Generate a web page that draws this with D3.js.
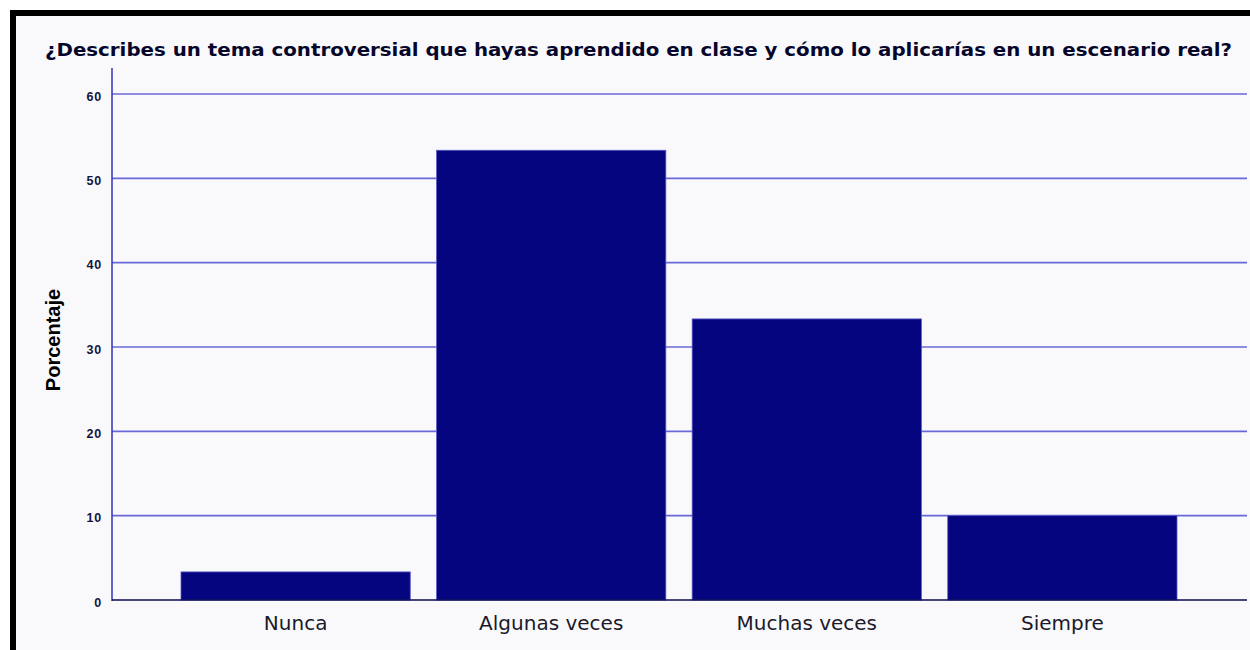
<!DOCTYPE html>
<html lang="es">
<head>
<meta charset="UTF-8">
<script src="https://d3js.org/d3.v7.min.js"></script>
<style>
  body { margin: 0; background: #ffffff; }
  svg { display: block; }
</style>
</head>
<body>
<script>
  // datos del gráfico
  const categorias = ["Nunca", "Algunas veces", "Muchas veces", "Siempre"];
  const porcentajes = [3.33, 53.33, 33.33, 10.0];
  const ticksY = [0, 10, 20, 30, 40, 50, 60];
  const titulo = "¿Describes un tema controversial que hayas aprendido en clase y cómo lo aplicarías en un escenario real?";

  const width = 1250, height = 650;

  const svg = d3.select("body").append("svg")
    .attr("width", width)
    .attr("height", height);

  // fondo y marco negro
  svg.append("rect").attr("width", width).attr("height", height).attr("fill", "#ffffff");
  svg.append("rect")
    .attr("x", 13).attr("y", 13)
    .attr("width", width + 20).attr("height", height + 20)
    .attr("fill", "#f9f9fc")
    .attr("stroke", "#000").attr("stroke-width", 6);

  const x = d3.scaleBand()
    .domain(categorias)
    .range([112, 1246])
    .paddingInner(0.103)
    .paddingOuter(0.27);

  const y = d3.scaleLinear()
    .domain([0, 60])
    .range([600, 94]);

  // líneas de cuadrícula
  svg.append("g")
    .selectAll("line")
    .data(ticksY.filter(d => d > 0))
    .enter().append("line")
    .attr("x1", 112).attr("x2", 1247)
    .attr("y1", d => y(d)).attr("y2", d => y(d))
    .attr("stroke", "#6868d8")
    .attr("stroke-width", 1.6);

  // barras
  svg.append("g")
    .selectAll("rect")
    .data(porcentajes)
    .enter().append("rect")
    .attr("x", (d, i) => x(categorias[i]))
    .attr("y", d => y(d))
    .attr("width", x.bandwidth())
    .attr("height", d => y(0) - y(d))
    .attr("fill", "#05057f")
    .attr("stroke", "#5a5ac8")
    .attr("stroke-width", 0.8);

  // eje Y
  const ejeY = svg.append("g")
    .attr("transform", "translate(112,0)")
    .call(d3.axisLeft(y).tickValues(ticksY).tickSize(0).tickPadding(10));
  ejeY.select(".domain").remove();
  ejeY.selectAll("text")
    .attr("font-family", "Liberation Sans, Arial, sans-serif")
    .attr("font-size", 12.5)
    .attr("font-weight", "bold")
    .attr("letter-spacing", 0.8)
    .attr("fill", "#14143c")
    .attr("dy", "0.5em");
  svg.append("line")
    .attr("x1", 112).attr("x2", 112)
    .attr("y1", 68).attr("y2", 601)
    .attr("stroke", "#3c3cc0").attr("stroke-width", 1.6);

  // eje X
  const ejeX = svg.append("g")
    .attr("transform", "translate(0,600)")
    .call(d3.axisBottom(x).tickSize(0).tickPadding(12));
  ejeX.select(".domain")
    .attr("d", "M112,0H1247")
    .attr("stroke", "#0a0a50").attr("stroke-width", 1.6);
  ejeX.selectAll("text")
    .attr("font-family", "DejaVu Sans, sans-serif")
    .attr("font-size", 20)
    .attr("fill", "#1a1a2a")
    .attr("y", 30)
    .attr("dy", null);

  // título del eje Y
  svg.append("text")
    .attr("transform", "translate(60,340) rotate(-90)")
    .attr("text-anchor", "middle")
    .attr("font-family", "Liberation Sans, Arial, sans-serif")
    .attr("font-size", 20)
    .attr("font-weight", "bold")
    .attr("fill", "#000")
    .text("Porcentaje");

  // título
  svg.append("text")
    .attr("x", 45).attr("y", 56)
    .attr("font-family", "DejaVu Sans, sans-serif")
    .attr("font-size", 18)
    .attr("font-weight", "bold")
    .attr("fill", "#06062a")
    .attr("textLength", 1187)
    .attr("lengthAdjust", "spacingAndGlyphs")
    .text(titulo);
</script>
</body>
</html>
